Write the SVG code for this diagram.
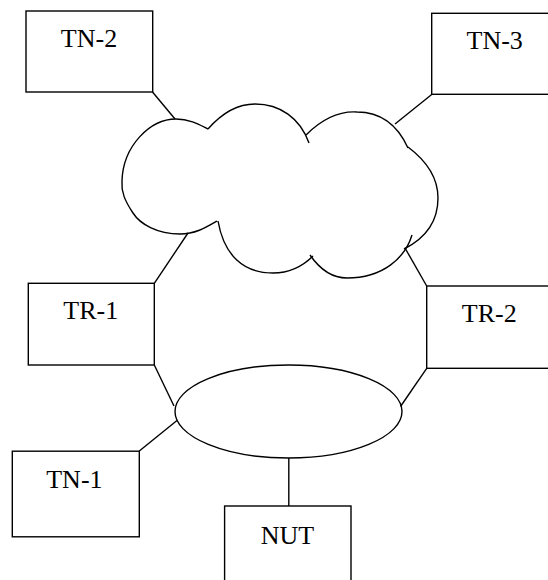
<svg xmlns="http://www.w3.org/2000/svg" width="548" height="580" viewBox="0 0 548 580">
<style>
.box{fill:#fff;stroke:#000;stroke-width:1.4}
.lbl{font-family:"Liberation Serif","Times New Roman",serif;font-size:26px;fill:#000;text-anchor:middle}
.ln{fill:none;stroke:#000;stroke-width:1.4}
</style>
<rect width="548" height="580" fill="#fff"/>
<g id="connectors">
<line class="ln" x1="152.5" y1="92" x2="175" y2="119"/>
<line class="ln" x1="431.7" y1="94.5" x2="395" y2="124"/>
<line class="ln" x1="188" y1="233" x2="154.3" y2="283.3"/>
<line class="ln" x1="405" y1="248" x2="426.7" y2="286"/>
<line class="ln" x1="154.3" y1="365" x2="174" y2="406"/>
<line class="ln" x1="426.7" y1="368.3" x2="400.5" y2="406.5"/>
<line class="ln" x1="139.3" y1="451" x2="177" y2="420.5"/>
<line class="ln" x1="288.8" y1="458" x2="288.8" y2="506"/>
</g>
<g id="cloud">
<path class="ln" d="M208,129 C222,113 238,104 255,104 C280,104 300,118 309,143"/>
<path class="ln" d="M306,135 C322,119 340,111 357,112 C382,112 398,126 408,148"/>
<path class="ln" d="M408,147 C428,162 438,180 438,198 C438,222 426,238 404,249"/>
<path class="ln" d="M412,235 C405,258 383,278 347,278 C332,278 319,268 310,255"/>
<path class="ln" d="M313,256 C303,266 290,273 273,273 C243,273 224,255 218,221"/>
<path class="ln" d="M217,221 C205,228 195,234 180,234 C157,234 140,224 133,213 C125,201 121,192 122,181 C123,146 150,119 176,119 C190,119 200,125 208,129"/>
</g>
<g id="ring">
<ellipse class="ln" cx="288.5" cy="411.5" rx="113.5" ry="46.5"/>
</g>
<g id="TN-2">
<rect class="box" x="26" y="11" width="126.7" height="81"/>
<text class="lbl" x="89" y="47">TN-2</text>
</g>
<g id="TN-3">
<rect class="box" x="431.7" y="13.3" width="130" height="81"/>
<text class="lbl" x="494.7" y="49">TN-3</text>
</g>
<g id="TR-1">
<rect class="box" x="28.3" y="283.3" width="126" height="81.7"/>
<text class="lbl" x="90.7" y="319">TR-1</text>
</g>
<g id="TR-2">
<rect class="box" x="426.7" y="286" width="130" height="82.3"/>
<text class="lbl" x="489.3" y="321.5">TR-2</text>
</g>
<g id="TN-1">
<rect class="box" x="12.3" y="451.2" width="127" height="85.6"/>
<text class="lbl" x="74.4" y="488.4">TN-1</text>
</g>
<g id="NUT">
<rect class="box" x="224.6" y="506" width="126.4" height="90"/>
<text class="lbl" x="287.5" y="544">NUT</text>
</g>
</svg>
